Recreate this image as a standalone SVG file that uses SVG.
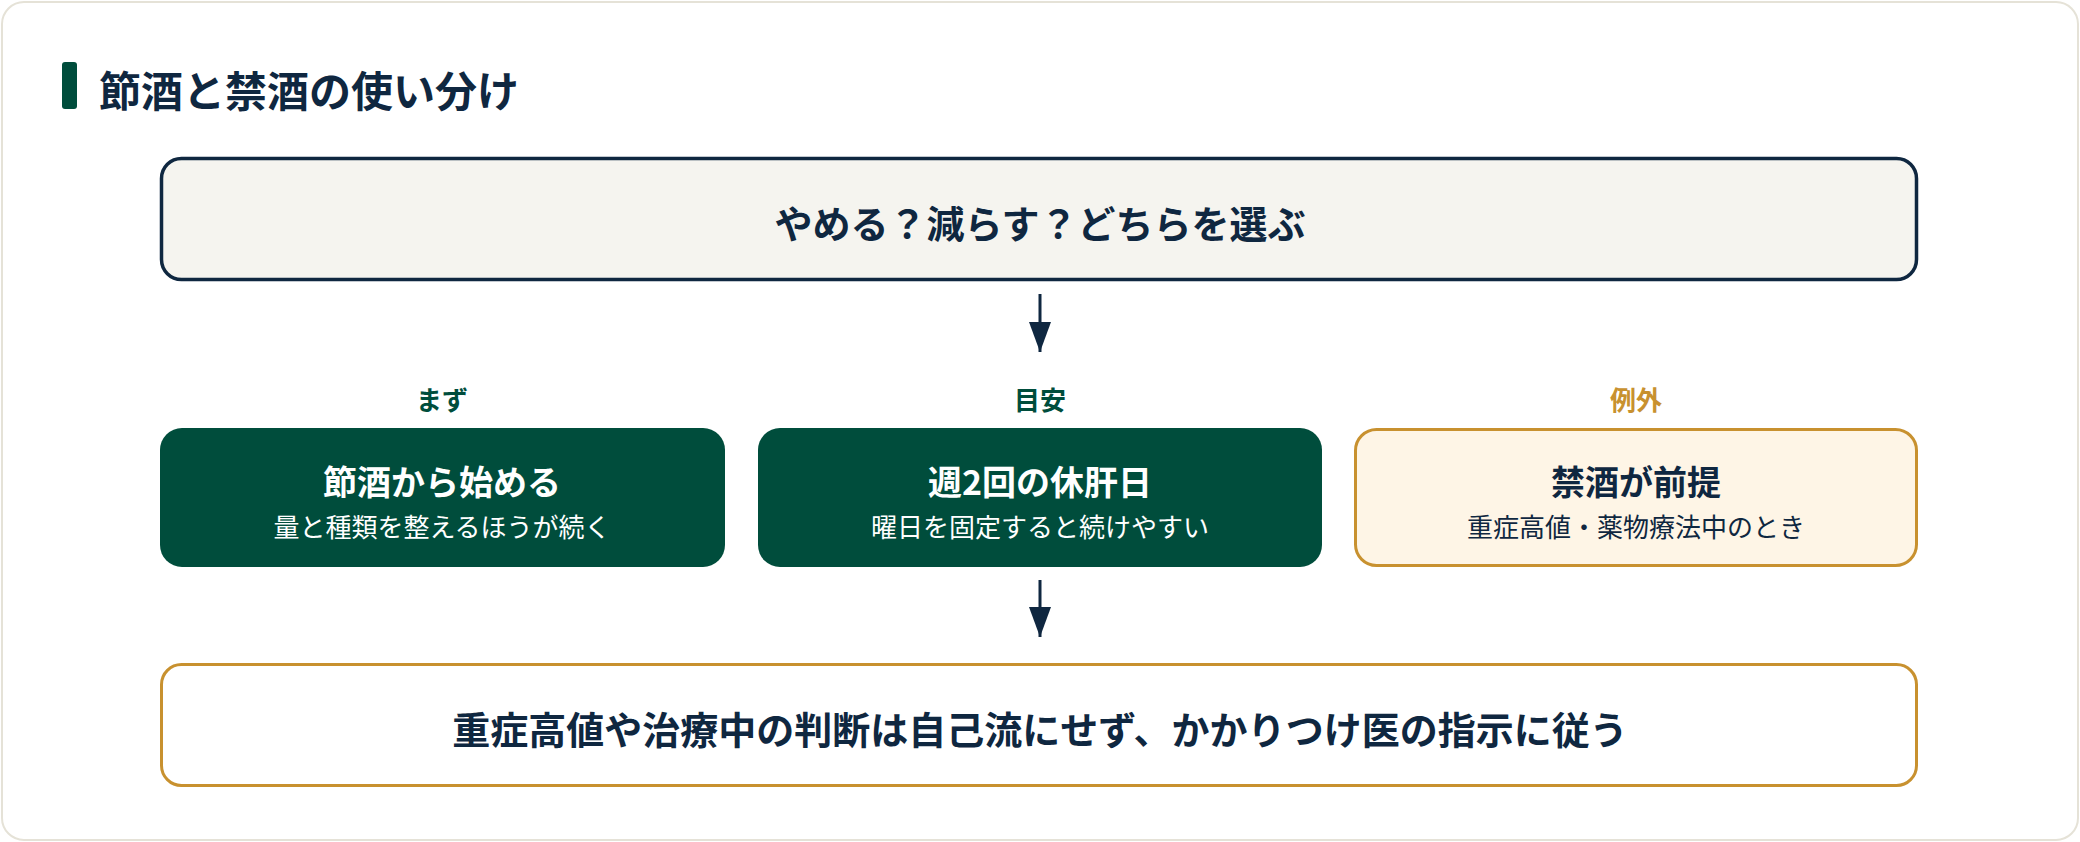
<svg xmlns="http://www.w3.org/2000/svg" width="2080" height="842" viewBox="0 0 2080 842">
  <defs>
    <style>
      text { font-family: "Noto Sans CJK JP", "Noto Sans", sans-serif; text-anchor: middle; dominant-baseline: central; }
      .navy { fill: #0f2740; }
      .big { font-size: 38px; font-weight: 700; fill: #0f2740; }
      .label { font-size: 26px; font-weight: 700; }
      .ntitle { font-size: 34px; font-weight: 700; }
      .nsub { font-size: 26px; font-weight: 400; }
      .conn { stroke: #0f2740; stroke-width: 3; fill: none; }
    </style>
    <marker id="arrow" viewBox="0 0 30 22" refX="30" refY="11" markerWidth="30" markerHeight="22" markerUnits="userSpaceOnUse" orient="auto">
      <path d="M0,0 L30,11 L0,22 Z" fill="#0f2740"/>
    </marker>
  </defs>

  <rect x="0" y="0" width="2080" height="842" fill="#ffffff"/>
  <rect id="card" x="2" y="2" width="2076" height="838" rx="22" fill="#ffffff" stroke="#e5e2d7" stroke-width="2"/>

  <g id="heading">
    <rect x="62" y="62" width="15" height="47" rx="3" fill="#004d3c"/>
    <text x="99" y="88" style="text-anchor:start; font-size:42px; font-weight:700;" class="navy">節酒と禁酒の使い分け</text>
  </g>

  <g id="question">
    <rect x="161.5" y="158.5" width="1755" height="121" rx="20" fill="#f5f4ef" stroke="#0f2740" stroke-width="3.5"/>
    <text x="1040" y="221" class="big">やめる？減らす？どちらを選ぶ</text>
  </g>

  <g id="connectors">
    <line x1="1040" y1="294" x2="1040" y2="352" class="conn" marker-end="url(#arrow)"/>
    <line x1="1040" y1="580" x2="1040" y2="637" class="conn" marker-end="url(#arrow)"/>
  </g>

  <g id="moderation">
    <text x="442" y="398" class="label" fill="#004d3c">まず</text>
    <rect x="160" y="428" width="565" height="139" rx="22" fill="#004d3c"/>
    <text x="442" y="480" class="ntitle" fill="#ffffff">節酒から始める</text>
    <text x="442" y="525" class="nsub" fill="#ffffff">量と種類を整えるほうが続く</text>
  </g>

  <g id="liverdays">
    <text x="1040" y="398" class="label" fill="#004d3c">目安</text>
    <rect x="758" y="428" width="564" height="139" rx="22" fill="#004d3c"/>
    <text x="1040" y="480" class="ntitle" fill="#ffffff">週2回の休肝日</text>
    <text x="1040" y="525" class="nsub" fill="#ffffff">曜日を固定すると続けやすい</text>
  </g>

  <g id="exception">
    <text x="1636" y="398" class="label" fill="#c8912f">例外</text>
    <rect x="1355.5" y="429.5" width="561" height="136" rx="21" fill="#fef5e6" stroke="#c8912f" stroke-width="3"/>
    <text x="1636" y="480" class="ntitle navy">禁酒が前提</text>
    <text x="1636" y="525" class="nsub navy">重症高値・薬物療法中のとき</text>
  </g>

  <g id="advice">
    <rect x="161.5" y="664.5" width="1755" height="121" rx="20" fill="#ffffff" stroke="#c8912f" stroke-width="3"/>
    <text x="1040" y="727" class="big">重症高値や治療中の判断は自己流にせず、かかりつけ医の指示に従う</text>
  </g>
</svg>
